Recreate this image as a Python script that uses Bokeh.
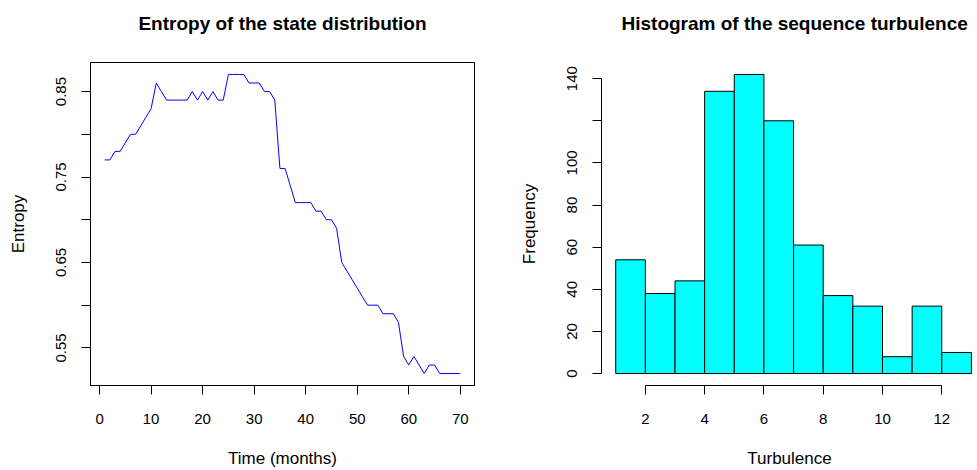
import numpy as np
from bokeh.plotting import figure
from bokeh.layouts import row
from bokeh.models import FixedTicker, Range1d
from bokeh.embed import file_html
from bokeh.resources import INLINE

# Monthly entropy of the cross-sectional state distribution
months = list(range(1, 71))
entropy = [
    0.77, 0.77, 0.78, 0.78, 0.79, 0.80, 0.80, 0.81, 0.82, 0.83,
    0.86, 0.85, 0.84, 0.84, 0.84, 0.84, 0.84, 0.85, 0.84, 0.85,
    0.84, 0.85, 0.84, 0.84, 0.87, 0.87, 0.87, 0.87, 0.86, 0.86,
    0.86, 0.85, 0.85, 0.84, 0.76, 0.76, 0.74, 0.72, 0.72, 0.72,
    0.72, 0.71, 0.71, 0.70, 0.70, 0.69, 0.65, 0.64, 0.63, 0.62,
    0.61, 0.60, 0.60, 0.60, 0.59, 0.59, 0.59, 0.58, 0.54, 0.53,
    0.54, 0.53, 0.52, 0.53, 0.53, 0.52, 0.52, 0.52, 0.52, 0.52,
]
entropy_ticks = [0.55, 0.60, 0.65, 0.70, 0.75, 0.80, 0.85]
entropy_tick_labels = ["0.55", "", "0.65", "", "0.75", "", "0.85"]
month_ticks = [0, 10, 20, 30, 40, 50, 60, 70]

# Histogram of sequence turbulence
turb_edges = [1, 2, 3, 4, 5, 6, 7, 8, 9, 10, 11, 12, 13]
turb_counts = [54, 38, 44, 134, 142, 120, 61, 37, 32, 8, 32, 10]
turb_ticks = [2, 4, 6, 8, 10, 12]
freq_ticks = [0, 20, 40, 60, 80, 100, 120, 140]
freq_tick_labels = ["0", "20", "40", "60", "80", "100", "", "140"]

FONT = "Liberation Sans"


def pad(lo, hi, frac=0.04):
    d = (hi - lo) * frac
    return lo - d, hi + d


def style_axes(p):
    for ax in (p.xaxis[0], p.yaxis[0]):
        ax.axis_line_color = "black"
        ax.axis_line_width = 1
        ax.major_tick_line_color = "black"
        ax.major_tick_out = 9
        ax.major_tick_in = 0
        ax.minor_tick_line_color = None
        ax.major_label_text_font = FONT
        ax.major_label_text_font_size = "15px"
        ax.major_label_text_color = "black"
        ax.axis_label_text_font = FONT
        ax.axis_label_text_font_size = "17px"
        ax.axis_label_text_font_style = "normal"
        ax.axis_label_text_color = "black"
    p.xaxis[0].major_label_standoff = 19
    p.yaxis[0].major_label_standoff = 15
    p.xaxis[0].axis_label_standoff = 22
    p.yaxis[0].axis_label_standoff = 26
    p.yaxis[0].major_label_orientation = "vertical"
    p.xgrid.grid_line_color = None
    p.ygrid.grid_line_color = None
    p.title.text_font = FONT
    p.title.text_font_size = "19px"
    p.title.text_font_style = "bold"
    p.title.text_color = "black"
    p.title.align = "center"
    p.title.vertical_align = "top"
    p.title.standoff = 24
    p.title.padding = dict(left=0, right=0, top=0, bottom=15)


# Left panel: entropy line
x0, x1 = pad(min(months), max(months))
y0, y1 = pad(min(entropy), max(entropy))
p1 = figure(width=500, height=470, output_backend="svg", toolbar_location=None,
            title="Entropy of the state distribution",
            x_range=Range1d(x0, x1), y_range=Range1d(y0, y1),
            min_border_left=90, min_border_right=26,
            min_border_top=62, min_border_bottom=84)
p1.line(months, entropy, line_color="#0000FF", line_width=1)
p1.outline_line_color = "black"
p1.outline_line_width = 1
p1.xaxis[0].ticker = FixedTicker(ticks=month_ticks)
p1.yaxis[0].ticker = FixedTicker(ticks=entropy_ticks)
p1.yaxis[0].major_label_overrides = {t: s for t, s in zip(entropy_ticks, entropy_tick_labels)}
p1.xaxis[0].axis_label = "Time (months)"
p1.yaxis[0].axis_label = "Entropy"
style_axes(p1)

# Right panel: turbulence histogram (frame runs past the window edge)
hx0, hx1 = pad(min(turb_edges), max(turb_edges))
hy0, hy1 = pad(0, max(turb_counts))
bin_w = turb_edges[1] - turb_edges[0]
frame_w = 477 - 101
hx1_vis = hx0 + frame_w / 29.64 * bin_w
p2 = figure(width=477, height=470, output_backend="svg", toolbar_location=None,
            title="Histogram of the sequence turbulence",
            x_range=Range1d(hx0, hx1_vis), y_range=Range1d(hy0, hy1),
            min_border_left=101, min_border_right=0,
            min_border_top=62, min_border_bottom=85)
p2.quad(left=turb_edges[:-1], right=turb_edges[1:], bottom=0, top=turb_counts,
        fill_color="#00FFFF", line_color="black", line_width=1)
p2.outline_line_color = None
p2.xaxis[0].ticker = FixedTicker(ticks=turb_ticks)
p2.xaxis[0].bounds = (min(turb_ticks), max(turb_ticks))
p2.yaxis[0].ticker = FixedTicker(ticks=freq_ticks)
p2.yaxis[0].bounds = (min(freq_ticks), max(freq_ticks))
p2.yaxis[0].major_label_overrides = {t: s for t, s in zip(freq_ticks, freq_tick_labels)}
p2.xaxis[0].axis_label = "Turbulence"
p2.yaxis[0].axis_label = "Frequency"
style_axes(p2)
# centre the title over the full (uncropped) plotting region
p2.title.align = "left"
p2.title.offset = 20

layout = row(p1, p2)
open("out.html", "w").write(file_html(layout, INLINE))
